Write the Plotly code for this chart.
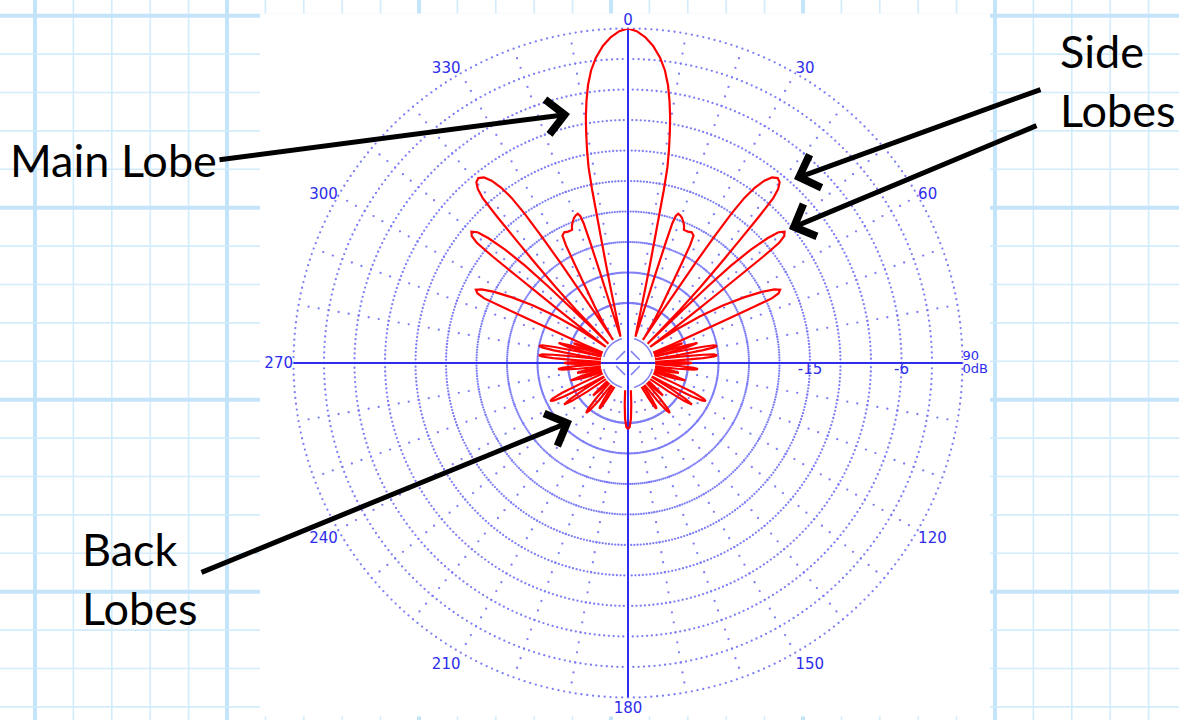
import plotly.graph_objects as go

W, H = 1179, 720

# ---------------------------------------------------------------------------
# Radiation pattern (right half; degrees clockwise from boresight, dB re. peak)
# The left half is the mirror image.  None breaks the trace between lobes.
# ---------------------------------------------------------------------------
main_theta = [0, 1.5, 3, 4.5, 6, 7.2, 8.2, 9.0, 9.7, 10.3, 10.9, 11.4, 11.7,
              11.9, 12.2, 12.6, 13.1, 13.8, 14.8, 15.8]
main_db = [0, -0.25, -0.8, -1.6, -2.7, -3.9, -5.3, -6.8, -8.3, -9.9, -11.6,
           -13.3, -15.5, -18, -20.5, -23, -25.5, -27.8, -29.5, -30.2]

# first (stepped) side lobe, two large side lobes and the 64 deg lobe
side_theta = [16.6, 17.0, 17.2, 17.4, 17.6, 18.0, 18.6, 19.5, 20.5, 21.4, 22.2,
              22.8, 24.5, 26.0, 27.2, 27.8, 28.4, 29.3, 30.5, 31.8, 32.8, 33.0,
              33.4, 33.8, 34.0, 34.3, 34.7, 35.2, 35.9, 36.8, 37.8, 39.0, 40.0,
              40.8, 41.4, 41.8, 42.3, 42.9, 43.6, 44.3, 45.0, 45.5,
              45.8, 46.0, 46.2, 46.6, 47.3, 48.2, 49.0, 50.0, 50.9, 51.5, 51.8,
              52.0, 52.3, 52.7, 53.2, 53.8,
              54.5, 55.5, 57.0, 58.8, 60.5, 62.0, 63.3, 64.3, 65.2, 65.8, 66.0,
              66.2, 66.6, 67.2, 67.8]
side_db = [-29.0, -26.5, -23.5, -20.5, -18.5, -17.7, -17.4, -17.5, -17.7, -18.0,
           -18.3, -18.7, -18.7, -18.6, -18.8, -19.8, -22, -24.5, -26.5, -28.3,
           -29.8, -30.2,
           -27.5, -24, -21, -18, -15, -13, -11.6, -10.5, -9.8, -9.5, -9.7,
           -10.3, -11.3, -13.5, -16.5, -19.5, -22.5, -25.5, -28.5, -30.2,
           -28, -25, -22, -19, -16.5, -14.5, -13.3, -12.8, -13.1, -13.9, -16,
           -19, -22, -25, -27.5, -30.2,
           -29.0, -27.0, -24.5, -22.0, -19.8, -18.0, -16.8, -16.3, -16.6,
           -17.4, -19.5, -22, -25, -28, -30.2]

# minor lobes round 90 deg and the back lobes
minor_theta = [68.0, 68.8, 69.4, 70.0, 70.6, 71.2, 72.0, None,
               71.8, 72.5, 73.1, 74.0, 74.9, 75.5, 76.2, None,
               76.2, 77.0, 77.7, 78.3, 79.0, 79.7, 80.3, 81.0, 81.8, None,
               82.2, 83.0, 83.7, 84.3, 85.0, 85.7, 86.3, 87.0, 87.8, None,
               88.0, 88.8, 89.4, 90.0, 90.6, 91.2, 92.0, None,
               92.6, 93.4, 94.2, 95.0, 95.8, 96.6, 97.4, None,
               98.8, 99.8, 101.0, 102.2, 103.2, None,
               104.6, 105.6, 107.0, 108.4, 109.4, None,
               112.5, 113.5, 114.4, 115.2, 116.0, 116.8, 117.6, 118.5, 119.5, None,
               120.0, 121.0, 122.0, 123.0, 124.0, 125.0, 126.0, None,
               131.2, 132.2, 133.0, 133.8, 134.8, None,
               137.0, 138.0, 139.0, 140.0, 141.0, 142.0, 143.0, None,
               145.5, 146.5, 147.3, 148.0, 148.7, 149.5, 150.5, None,
               174.0, 175.5, 177.0, 178.5, 180.0]
minor_db = [-30.2, -28.8, -27.8, -27.2, -27.8, -28.8, -30.2, None,
            -30.2, -28.5, -26.8, -25.8, -26.8, -28.5, -30.2, None,
            -30.2, -28.0, -25.5, -24.3, -24.0, -24.3, -25.5, -28.0, -30.2, None,
            -30.2, -28.0, -25.5, -24.4, -24.1, -24.4, -25.5, -28.0, -30.2, None,
            -30.2, -28.3, -27.0, -26.6, -27.0, -28.3, -30.2, None,
            -30.2, -28.0, -26.4, -26.0, -26.4, -28.0, -30.2, None,
            -30.2, -28.6, -27.8, -28.6, -30.2, None,
            -30.2, -28.2, -27.0, -28.2, -30.2, None,
            -30.2, -28.0, -25.8, -24.7, -24.4, -24.7, -25.8, -28.0, -30.2, None,
            -30.2, -28.0, -26.2, -25.4, -26.2, -28.0, -30.2, None,
            -30.2, -29.0, -28.2, -29.0, -30.2, None,
            -30.2, -28.2, -26.9, -26.5, -26.9, -28.2, -30.2, None,
            -30.2, -28.6, -27.8, -27.6, -27.8, -28.6, -30.2, None,
            -30.2, -28.8, -27.4, -26.6, -26.4]

# grid / scale
r_min, r_max = -32.9, 0.0
ring_db = [-3, -6, -9, -12, -15, -18, -21, -24, -27]
spoke_step_deg = 10
angle_ticks = [0, 30, 60, 120, 150, 180, 210, 240, 270, 300, 330]
angle_tick_text = ["0", "30", "60", "120", "150", "180", "210", "240", "270",
                   "300", "330"]
radial_label_db = [-15, -6]
radial_label_text = ["-15", "-6"]

BLUE = "rgb(45,45,235)"
DOT = "rgb(125,125,245)"
RED = "#ff0000"
TICK_FONT = dict(family="DejaVu Sans", size=15, color=BLUE)
RIM_FONT = dict(family="DejaVu Sans", size=13, color=BLUE)

# ---------------------------------------------------------------------------
right_theta = main_theta + side_theta + [None] + minor_theta
right_db = main_db + side_db + [None] + minor_db
left_theta = [None if t is None else 360 - t for t in reversed(right_theta)]
left_db = list(reversed(right_db))
pat_theta = left_theta + right_theta
pat_db = left_db + right_db

fig = go.Figure()

# page-sized cartesian frame for the paper background and callouts
fig.add_trace(go.Scatter(x=[0], y=[0], mode="markers",
                         marker=dict(opacity=0), hoverinfo="skip",
                         showlegend=False))

# dotted range rings and rim (one dot per degree)
deg = list(range(360))
ring_t, ring_r = [], []
for lvl in ring_db + [r_max]:
    ring_t += deg
    ring_r += [lvl] * len(deg)
fig.add_trace(go.Scatterpolar(theta=ring_t, r=ring_r, mode="markers",
                              marker=dict(size=2.3, color=DOT),
                              hoverinfo="skip", showlegend=False))

# dotted spokes every 10 degrees, one dot per dB
sp_t, sp_r = [], []
for a in range(0, 360, spoke_step_deg):
    if a % 90 == 0:
        continue
    for d in range(-29, 0):
        sp_t.append(a)
        sp_r.append(d)
fig.add_trace(go.Scatterpolar(theta=sp_t, r=sp_r, mode="markers",
                              marker=dict(size=2.3, color=DOT),
                              hoverinfo="skip", showlegend=False))

# inner rings near the centre, drawn as four arcs / chords
for q in range(4):
    arc = [q * 90 + a for a in range(14, 77, 2)]
    fig.add_trace(go.Scatterpolar(theta=arc, r=[-30.45] * len(arc),
                                  mode="lines",
                                  line=dict(color="rgb(130,130,240)", width=1.6),
                                  hoverinfo="skip", showlegend=False))
    fig.add_trace(go.Scatterpolar(theta=[q * 90 + 14, q * 90 + 76],
                                  r=[-31.7, -31.7], mode="lines",
                                  line=dict(color="rgb(130,130,240)", width=1.6),
                                  hoverinfo="skip", showlegend=False))

# solid main axes
for a in (0, 90):
    fig.add_trace(go.Scatterpolar(theta=[a, a, a + 180, a + 180],
                                  r=[r_max, r_min, r_min, r_max],
                                  mode="lines", line=dict(color=BLUE, width=2),
                                  hoverinfo="skip", showlegend=False))

# radiation pattern
fig.add_trace(go.Scatterpolar(theta=pat_theta, r=pat_db, mode="lines",
                              line=dict(color=RED, width=2.2),
                              connectgaps=False, hoverinfo="skip",
                              showlegend=False))

# dB labels along the 90 deg axis, the "0dB" rim label and the "90" bearing
fig.add_trace(go.Scatterpolar(theta=[90] * 2, r=radial_label_db, mode="text",
                              text=radial_label_text,
                              textposition="bottom center", textfont=TICK_FONT,
                              hoverinfo="skip", showlegend=False))
fig.add_trace(go.Scatterpolar(theta=[90, 90], r=[r_max, r_max], mode="text",
                              text=["0dB", "90"],
                              textposition=["bottom right", "top right"],
                              textfont=RIM_FONT, cliponaxis=False,
                              hoverinfo="skip", showlegend=False))

# paper background: blue grid with a white sheet in the middle
shapes = []
cell = 38.4
gx0, gy0 = 35.0, 15.7
for k in range(-1, 32):
    x = gx0 + k * cell
    if -5 <= x <= W + 5:
        thick = k % 5 == 0
        shapes.append(dict(type="line", xref="x", yref="y", x0=x, x1=x,
                           y0=0, y1=H, layer="below",
                           line=dict(color="#c4e4fa" if thick else "#d2ecfc",
                                     width=4 if thick else 1.6)))
for k in range(-1, 20):
    y = gy0 + k * cell
    if -5 <= y <= H + 5:
        thick = k % 5 == 0
        shapes.append(dict(type="line", xref="x", yref="y", x0=0, x1=W,
                           y0=y, y1=y, layer="below",
                           line=dict(color="#c4e4fa" if thick else "#d2ecfc",
                                     width=4 if thick else 1.6)))
shapes.append(dict(type="rect", xref="x", yref="y", x0=260, x1=990,
                   y0=13.5, y1=716.5, layer="below", fillcolor="white",
                   line=dict(width=0)))

# callouts
label_font = dict(family="Lato", size=45, color="black")
annotations = [
    dict(text="Main Lobe", x=8, y=160, xref="x", yref="y", xanchor="left",
         yanchor="middle", showarrow=False, font=label_font),
    dict(text="Side<br>Lobes", x=1058, y=80, xref="x", yref="y",
         xanchor="left", yanchor="middle", align="left", showarrow=False,
         font=label_font),
    dict(text="Back<br>Lobes", x=80, y=578, xref="x", yref="y",
         xanchor="left", yanchor="middle", align="left", showarrow=False,
         font=label_font),
]
arrows = [((218, 160), (570, 114)),
          ((1042, 89), (794, 179)),
          ((1038, 125), (789, 229)),
          ((200, 573), (572, 421))]
for (tx, ty), (hx, hy) in arrows:
    annotations.append(dict(text="", x=hx, y=hy, ax=tx, ay=ty, xref="x",
                            yref="y", axref="x", ayref="y", showarrow=True,
                            arrowhead=4, arrowsize=1.35, arrowwidth=5,
                            arrowcolor="black", standoff=0))

cx, cy, rad = 628.0, 363.0, 334.5
fig.update_layout(
    width=W, height=H, margin=dict(l=0, r=0, t=0, b=0),
    paper_bgcolor="white", plot_bgcolor="rgba(0,0,0,0)",
    showlegend=False,
    xaxis=dict(range=[0, W], domain=[0, 1], visible=False, fixedrange=True),
    yaxis=dict(range=[H, 0], domain=[0, 1], visible=False, fixedrange=True),
    polar=dict(
        domain=dict(x=[(cx - rad) / W, (cx + rad) / W],
                    y=[1 - (cy + rad) / H, 1 - (cy - rad) / H]),
        bgcolor="rgba(0,0,0,0)",
        angularaxis=dict(rotation=90, direction="clockwise", showgrid=False,
                         showline=False, ticks="", tickvals=angle_ticks,
                         ticktext=angle_tick_text, tickfont=TICK_FONT),
        radialaxis=dict(range=[r_min, r_max], visible=False),
    ),
    shapes=shapes,
    annotations=annotations,
)

fig.write_html("out.html")
